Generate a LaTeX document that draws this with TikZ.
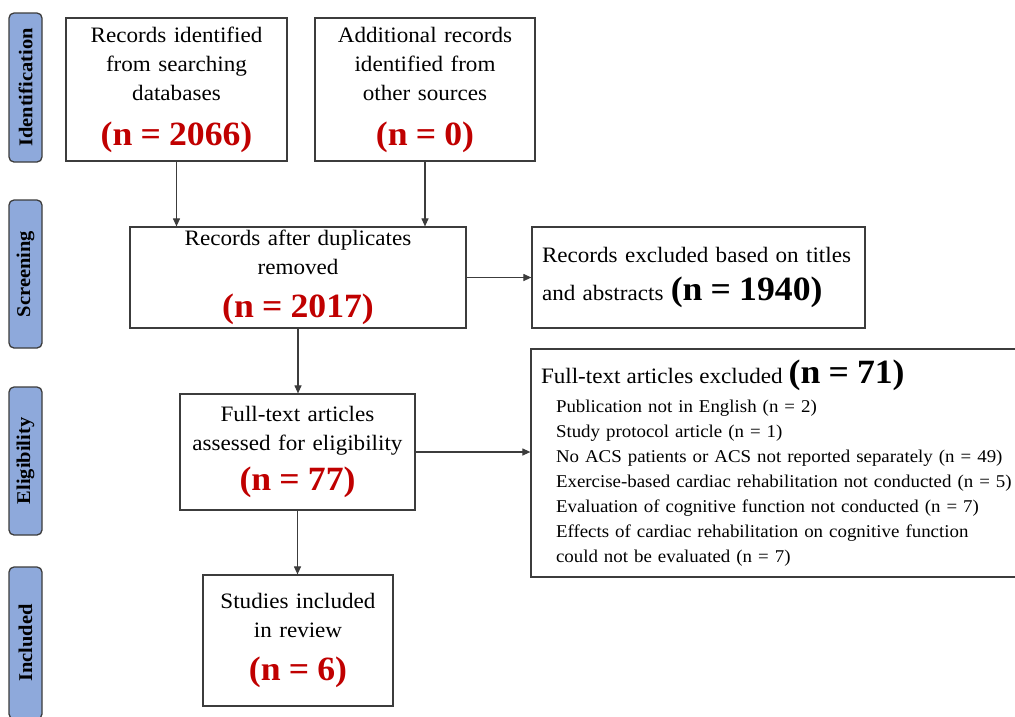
\documentclass[tikz,border=0pt]{standalone}
\usepackage{fontspec}
\setmainfont[FakeStretch=1.05,WordSpace=1.3]{Liberation Serif}
\usetikzlibrary{arrows.meta}
\definecolor{nred}{RGB}{192,0,0}
\definecolor{lblfill}{RGB}{142,169,219}
\definecolor{edgegray}{RGB}{60,60,60}
\newcommand\bigred[1]{{\fontsize{34}{36}\selectfont\bfseries\spaceskip=0.24em plus 0.1em minus 0.05em\color{nred}#1}}
\newcommand\bigblk[1]{{\fontsize{34}{36}\selectfont\bfseries\spaceskip=0.24em plus 0.1em minus 0.05em #1}}
\begin{document}
\begin{tikzpicture}[x=1pt,y=-1pt,
 box/.style={draw=edgegray, line width=1.2pt, fill=white, inner sep=0pt, align=center, font=\fontsize{22}{29}\selectfont},
 lbl/.style={draw=edgegray, line width=1.3pt, fill=lblfill, rounded corners=5pt, rotate=90, minimum height=33pt, inner sep=0pt, font=\fontsize{19.5}{22}\selectfont\bfseries},
 arr/.style={draw=edgegray, line width=1.1pt, -{Triangle[length=8pt,width=7pt]}}]
\useasboundingbox (0,0) rectangle (1015,716);

% stage labels
\node[lbl, minimum width=149pt] (lid) at (25.5,87.5) {Identification};
\node[lbl, minimum width=148pt] (lsc) at (25.5,274) {Screening};
\node[lbl, minimum width=148pt] (lel) at (25.5,461) {Eligibility};
\node[lbl, minimum width=152pt] (lin) at (25.5,643) {Included};

% boxes
\node[box, minimum width=221pt, minimum height=143pt] (a) at (176.5,89.5)
  {Records identified\\from searching\\databases\\[16pt]\bigred{(n = 2066)}};
\node[box, minimum width=220pt, minimum height=143pt] (b) at (425,89.5)
  {Additional records\\identified from\\other sources\\[16pt]\bigred{(n = 0)}};
\node[box, minimum width=336pt, minimum height=101pt] (c) at (298,277.5)
  {Records after duplicates\\removed\\[14pt]\bigred{(n = 2017)}};
\node[box, minimum width=333pt, minimum height=101pt, align=left, text width=313pt] (d) at (698.5,277.5)
  {Records excluded based on titles\\[9pt]and abstracts \bigblk{(n = 1940)}};
\node[box, minimum width=235pt, minimum height=116pt] (e) at (297.5,452)
  {Full-text articles\\assessed for eligibility\\[11pt]\bigred{(n = 77)}};
\node[box, minimum width=494pt, minimum height=228pt, align=left, text width=474pt, font=\fontsize{18}{25}\selectfont] (f) at (778,463)
  {{\fontsize{22}{29}\selectfont Full-text articles excluded \bigblk{(n = 71)}}\\[4pt]
   \hspace*{15pt}Publication not in English (n = 2)\\
   \hspace*{15pt}Study protocol article (n = 1)\\
   \hspace*{15pt}No ACS patients or ACS not reported separately (n = 49)\\
   \hspace*{15pt}Exercise-based cardiac rehabilitation not conducted (n = 5)\\
   \hspace*{15pt}Evaluation of cognitive function not conducted (n = 7)\\
   \hspace*{15pt}Effects of cardiac rehabilitation on cognitive function\\
   \hspace*{15pt}could not be evaluated (n = 7)};
\node[box, minimum width=190pt, minimum height=131pt] (g) at (298,640.5)
  {Studies included\\in review\\[14pt]\bigred{(n = 6)}};

% connectors
\draw[arr] (a.south) -- (a.south |- c.north);
\draw[arr] (b.south) -- (b.south |- c.north);
\draw[arr] (c.south) -- (c.south |- e.north);
\draw[arr] (e.south) -- (e.south |- g.north);
\draw[arr] (c.east) -- (d.west);
\draw[arr] (e.east) -- (e.east -| f.west);
\end{tikzpicture}
\end{document}
